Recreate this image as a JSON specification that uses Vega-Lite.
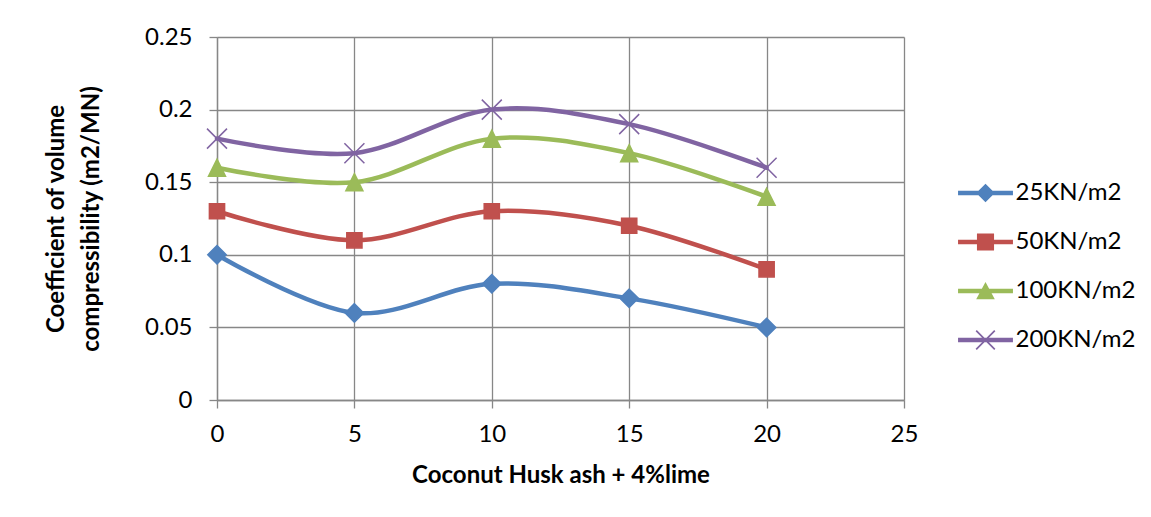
{
  "$schema": "https://vega.github.io/schema/vega-lite/v6.json",
  "width": 687,
  "height": 363,
  "autosize": {"type": "none"},
  "padding": {"left": 217, "top": 37, "right": 247, "bottom": 117},
  "background": "white",
  "config": {"view": {"stroke": null}, "font": "Lato"},
  "data": {
    "values": [
      {"ash": 0, "mv": 0.10, "series": "25KN/m2"},
      {"ash": 5, "mv": 0.06, "series": "25KN/m2"},
      {"ash": 10, "mv": 0.08, "series": "25KN/m2"},
      {"ash": 15, "mv": 0.07, "series": "25KN/m2"},
      {"ash": 20, "mv": 0.05, "series": "25KN/m2"},
      {"ash": 0, "mv": 0.13, "series": "50KN/m2"},
      {"ash": 5, "mv": 0.11, "series": "50KN/m2"},
      {"ash": 10, "mv": 0.13, "series": "50KN/m2"},
      {"ash": 15, "mv": 0.12, "series": "50KN/m2"},
      {"ash": 20, "mv": 0.09, "series": "50KN/m2"},
      {"ash": 0, "mv": 0.16, "series": "100KN/m2"},
      {"ash": 5, "mv": 0.15, "series": "100KN/m2"},
      {"ash": 10, "mv": 0.18, "series": "100KN/m2"},
      {"ash": 15, "mv": 0.17, "series": "100KN/m2"},
      {"ash": 20, "mv": 0.14, "series": "100KN/m2"},
      {"ash": 0, "mv": 0.18, "series": "200KN/m2"},
      {"ash": 5, "mv": 0.17, "series": "200KN/m2"},
      {"ash": 10, "mv": 0.20, "series": "200KN/m2"},
      {"ash": 15, "mv": 0.19, "series": "200KN/m2"},
      {"ash": 20, "mv": 0.16, "series": "200KN/m2"}
    ]
  },
  "encoding": {
    "x": {
      "field": "ash",
      "type": "quantitative",
      "scale": {"domain": [0, 25], "nice": false, "zero": false},
      "axis": {
        "values": [0, 5, 10, 15, 20, 25],
        "title": "Coconut Husk ash + 4%lime",
        "grid": true,
        "gridColor": "#878787",
        "gridOpacity": 1,
        "gridWidth": 1.3,
        "domainColor": "#878787",
        "domainWidth": 1.3,
        "tickColor": "#878787",
        "tickSize": 8,
        "tickWidth": 1.3,
        "labelFont": "Lato",
        "labelFontSize": 24,
        "labelColor": "#000000",
        "labelPadding": 14,
        "labelFlush": false,
        "labelOverlap": false,
        "titleFont": "Lato",
        "titleFontSize": 24,
        "titleFontWeight": "bold",
        "titleColor": "#000000",
        "titlePadding": 17
      }
    },
    "y": {
      "field": "mv",
      "type": "quantitative",
      "scale": {"domain": [0, 0.25], "nice": false},
      "axis": {
        "values": [0, 0.05, 0.1, 0.15, 0.2, 0.25],
        "format": "~g",
        "title": ["Coefficient of volume", "compressibility (m2/MN)"],
        "grid": true,
        "gridColor": "#878787",
        "gridOpacity": 1,
        "gridWidth": 1.3,
        "domainColor": "#878787",
        "domainWidth": 1.3,
        "tickColor": "#878787",
        "tickSize": 8,
        "tickWidth": 1.3,
        "labelFont": "Lato",
        "labelFontSize": 24,
        "labelColor": "#000000",
        "labelPadding": 17,
        "labelFlush": false,
        "labelOverlap": false,
        "titleFont": "Lato",
        "titleFontSize": 24,
        "titleFontWeight": "bold",
        "titleColor": "#000000",
        "titleLineHeight": 35,
        "titlePadding": 41
      }
    }
  },
  "resolve": {"scale": {"color": "independent", "shape": "independent", "fill": "independent", "stroke": "independent"}},
  "layer": [
    {
      "mark": {"type": "line", "interpolate": "cardinal", "strokeWidth": 4.5, "strokeCap": "round", "strokeJoin": "round"},
      "encoding": {
        "color": {
          "field": "series",
          "type": "nominal",
          "scale": {
            "domain": ["25KN/m2", "50KN/m2", "100KN/m2", "200KN/m2"],
            "range": ["#4F81BD", "#C0504D", "#9BBB59", "#8064A2"]
          },
          "legend": null
        }
      }
    },
    {
      "mark": {"type": "point", "filled": true, "opacity": 1, "size": 400, "strokeWidth": 1.5, "strokeOpacity": 1, "fillOpacity": 1},
      "encoding": {
        "fill": {
          "field": "series",
          "type": "nominal",
          "scale": {
            "domain": ["25KN/m2", "50KN/m2", "100KN/m2", "200KN/m2"],
            "range": ["#4F81BD", "#C0504D", "#9BBB59", "#8064A2"]
          },
          "legend": null
        },
        "stroke": {
          "field": "series",
          "type": "nominal",
          "scale": {
            "domain": ["25KN/m2", "50KN/m2", "100KN/m2", "200KN/m2"],
            "range": ["#4F81BD", "#C0504D", "#9BBB59", "#8064A2"]
          },
          "legend": null
        },
        "shape": {
          "field": "series",
          "type": "nominal",
          "scale": {
            "domain": ["25KN/m2", "50KN/m2", "100KN/m2", "200KN/m2"],
            "range": ["M0,-0.92L0.92,0L0,0.92L-0.92,0Z", "M-0.76,-0.76H0.76V0.76H-0.76Z", "M0,-0.85L0.85,0.85L-0.85,0.85Z", "M-1,-1L1,1M-1,1L1,-1"]
          },
          "legend": null
        }
      }
    },
    {
      "mark": {"type": "point", "filled": true, "opacity": 0},
      "encoding": {
        "color": {
          "field": "series",
          "type": "nominal",
          "scale": {
            "domain": ["25KN/m2", "50KN/m2", "100KN/m2", "200KN/m2"],
            "range": ["#4F81BD", "#C0504D", "#9BBB59", "#8064A2"]
          },
          "legend": {
            "orient": "none",
            "legendX": 753.5,
            "legendY": 141,
            "title": null,
            "padding": 0,
            "labelFont": "Lato",
            "labelFontSize": 24,
            "labelColor": "#000000",
            "labelOffset": 15,
            "symbolSize": 900,
            "symbolOpacity": 1,
            "symbolStrokeWidth": 0,
            "rowPadding": 22
          }
        },
        "shape": {
          "field": "series",
          "type": "nominal",
          "scale": {
            "domain": ["25KN/m2", "50KN/m2", "100KN/m2", "200KN/m2"],
            "range": [
              "M-1.83,-0.15H1.83V0.15H-1.83Z M0,-0.62L0.62,0L0,0.62L-0.62,0Z",
              "M-1.83,-0.15H1.83V0.15H-1.83Z M-0.57,-0.57H0.57V0.57H-0.57Z",
              "M-1.83,-0.15H1.83V0.15H-1.83Z M0,-0.6L0.62,0.55L-0.62,0.55Z",
              "M-1.83,-0.15H1.83V0.15H-1.83Z M-0.58,-0.66L0.66,0.58L0.58,0.66L-0.66,-0.58Z M-0.66,0.58L0.58,-0.66L0.66,-0.58L-0.58,0.66Z"
            ]
          },
          "legend": {
            "orient": "none",
            "legendX": 753.5,
            "legendY": 141,
            "title": null,
            "padding": 0,
            "labelFont": "Lato",
            "labelFontSize": 24,
            "labelColor": "#000000",
            "labelOffset": 15,
            "symbolSize": 900,
            "symbolOpacity": 1,
            "symbolStrokeWidth": 0,
            "rowPadding": 22
          }
        }
      }
    }
  ]
}
